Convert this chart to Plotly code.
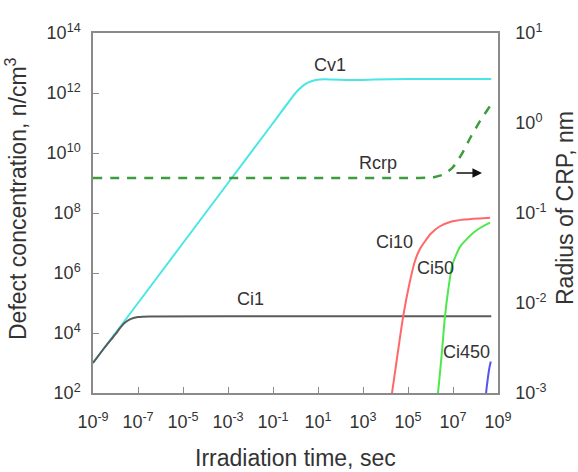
import numpy as np
import plotly.graph_objects as go

# ---- data (log10 values) ----
cv1_logt = [-9, -7, -5, -3, -1, 0, 0.3, 0.6, 0.9, 1.3, 2.5, 3.5, 5, 8.7]
cv1_logc = [3.0, 5.0, 7.0, 9.0, 11.0, 12.0, 12.22, 12.36, 12.43, 12.46, 12.43, 12.45, 12.47, 12.47]

ci1_logt = [-9, -8.5, -8.2, -8.0, -7.8, -7.6, -7.4, -7.2, -7.0, -6.5, 0, 8.7]
ci1_logc = [3.0, 3.5, 3.78, 3.96, 4.16, 4.33, 4.44, 4.5, 4.53, 4.55, 4.56, 4.56]

ci10_logt = [4.18, 4.29, 4.5, 4.78, 5.05, 5.31, 5.53, 5.75, 6.0, 6.4, 6.87, 7.5, 8.2, 8.65]
ci10_logc = [1.5, 2.0, 3.1, 4.53, 5.6, 6.4, 6.8, 7.05, 7.3, 7.55, 7.7, 7.78, 7.82, 7.84]

ci50_logt = [6.22, 6.33, 6.5, 6.64, 6.8, 6.96, 7.15, 7.31, 7.6, 7.89, 8.2, 8.51, 8.65]
ci50_logc = [1.5, 2.0, 3.3, 4.53, 5.5, 6.25, 6.62, 6.87, 7.12, 7.33, 7.5, 7.63, 7.68]

ci450_logt = [8.42, 8.47, 8.55, 8.62, 8.68]
ci450_logc = [1.5, 2.0, 2.5, 2.85, 3.05]

rcrp_logt = [-9, 5.0, 5.8, 6.2, 6.6, 7.0, 7.4, 7.8, 8.2, 8.65]
rcrp_logr = [-0.611, -0.611, -0.608, -0.6, -0.57, -0.49, -0.34, -0.15, 0.02, 0.19]

x_tick_exp = [-9, -7, -5, -3, -1, 1, 3, 5, 7, 9]
y_tick_exp = [2, 4, 6, 8, 10, 12, 14]
y2_tick_exp = [-3, -2, -1, 0, 1]

labels = ["Cv1", "Rcrp", "Ci10", "Ci50", "Ci1", "Ci450"]
label_logt = [1.53, 3.67, 4.42, 6.2, -2.0, 7.62]
label_logv = [12.93, 9.67, 7.03, 6.17, 5.13, 3.37]


def p(v):
    return 10 ** np.array(v, dtype=float)


fig = go.Figure()

lw = 2
fig.add_trace(go.Scatter(x=p(rcrp_logt), y=p(rcrp_logr), mode="lines", yaxis="y2",
                         line=dict(color="#3d9c3d", width=2.5, dash="9px,8px", shape="spline", smoothing=0.6)))
fig.add_trace(go.Scatter(x=p(cv1_logt), y=p(cv1_logc), mode="lines",
                         line=dict(color="#4ae6e6", width=lw, shape="spline", smoothing=0.3)))
fig.add_trace(go.Scatter(x=p(ci1_logt), y=p(ci1_logc), mode="lines",
                         line=dict(color="#5a5a5a", width=lw, shape="spline", smoothing=0.5)))
fig.add_trace(go.Scatter(x=p(ci10_logt), y=p(ci10_logc), mode="lines",
                         line=dict(color="#ff6868", width=lw, shape="spline", smoothing=0.6)))
fig.add_trace(go.Scatter(x=p(ci50_logt), y=p(ci50_logc), mode="lines",
                         line=dict(color="#4ee84e", width=lw, shape="spline", smoothing=0.6)))
fig.add_trace(go.Scatter(x=p(ci450_logt), y=p(ci450_logc), mode="lines",
                         line=dict(color="#5555ee", width=lw, shape="spline", smoothing=0.6)))

for t, lt, lv in zip(labels, label_logt, label_logv):
    fig.add_annotation(x=lt, y=lv, text=t, showarrow=False, xref="x", yref="y",
                       font=dict(size=18, color="#333333"))

# arrow pointing to right axis
fig.add_annotation(x=8.29, y=-0.556, xref="x", yref="y2", ax=7.09, ay=-0.556, axref="x", ayref="y2",
                   text="", showarrow=True, arrowhead=2, arrowsize=1.2, arrowwidth=1.6, arrowcolor="#111111")

font_family = "Liberation Sans, Arial, sans-serif"
title_font = dict(size=23, color="#333333", family=font_family)

# axis titles as annotations for precise placement
fig.add_annotation(text="Irradiation time, sec", xref="paper", yref="paper", x=0.5, y=0,
                   yshift=-65, showarrow=False, font=title_font, xanchor="center", yanchor="middle")
fig.add_annotation(text="Defect concentration, n/cm<sup>3</sup>", xref="paper", yref="paper", x=0, y=0.5,
                   xshift=-77, yshift=14, textangle=-90, showarrow=False, font=title_font,
                   xanchor="center", yanchor="middle")
fig.add_annotation(text="Radius of CRP, nm", xref="paper", yref="paper", x=1, y=0.5,
                   xshift=67, yshift=5, textangle=-90, showarrow=False, font=title_font,
                   xanchor="center", yanchor="middle")

axis_common = dict(showline=True, linecolor="#8a8a8a", linewidth=1.5, ticks="inside", ticklen=6,
                   tickcolor="#8a8a8a", tickwidth=1, showgrid=False, zeroline=False,
                   tickfont=dict(size=18, color="#333333", family=font_family))

fig.update_layout(
    width=578, height=472,
    margin=dict(l=93, r=80, t=33, b=79),
    paper_bgcolor="white", plot_bgcolor="white",
    showlegend=False,
    font=dict(family=font_family, color="#333333"),
    xaxis=dict(type="log", range=[-9, 9], mirror=True,
               tickvals=list(p(x_tick_exp)),
               ticktext=["10<sup>%d</sup>" % e for e in x_tick_exp],
               ticklabelstandoff=12,
               **axis_common),
    yaxis=dict(type="log", range=[2, 14], mirror=True,
               tickvals=list(p(y_tick_exp)),
               ticktext=["10<sup>%d</sup>" % e for e in y_tick_exp],
               ticklabelstandoff=7,
               **axis_common),
    yaxis2=dict(type="log", range=[-3, 1], overlaying="y", side="right",
                showline=True, linecolor="#8a8a8a", linewidth=1.5, ticks="", showgrid=False, zeroline=False,
                tickvals=list(p(y2_tick_exp)),
                ticktext=["10<sup>%d</sup>" % e for e in y2_tick_exp],
                tickfont=dict(size=18, color="#333333", family=font_family),
                ticklabelstandoff=12),
)

fig.write_html("out.html")
